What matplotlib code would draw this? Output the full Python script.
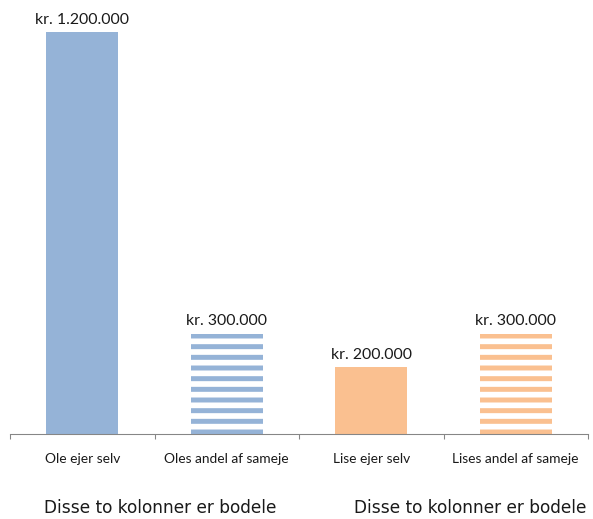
import matplotlib
matplotlib.use("Agg")
import matplotlib.pyplot as plt

# values in kroner
categories = ["Ole ejer selv", "Oles andel af sameje", "Lise ejer selv", "Lises andel af sameje"]
values = [1200000, 300000, 200000, 300000]
value_labels = ["kr. 1.200.000", "kr. 300.000", "kr. 200.000", "kr. 300.000"]
colors = ["#95B3D7", "#95B3D7", "#FAC090", "#FAC090"]
hatched = [False, True, False, True]
group_note = "Disse to kolonner er bodele"

DPI = 64
W, H = 593, 519

plt.rcParams["hatch.linewidth"] = 5.6
plt.rcParams["font.family"] = ["Lato", "DejaVu Sans"]

fig = plt.figure(figsize=(W / DPI, H / DPI), dpi=DPI)
ax = fig.add_axes([10 / W, 85 / H, 578 / W, 402 / H])

x = range(len(categories))
for i, (v, c, h) in enumerate(zip(values, colors, hatched)):
    if h:
        ax.bar(i, v, width=0.5, facecolor="white", edgecolor=c, linewidth=0, hatch="-")
    else:
        ax.bar(i, v, width=0.5, color=c, linewidth=0)
    ax.annotate(value_labels[i], (i, v), xytext=(0, 6), textcoords="offset points",
                ha="center", va="bottom", fontsize=17.8, color="#1a1a1a")

ax.set_xlim(-0.5, len(categories) - 0.5)
ax.set_ylim(0, max(values))

for s in ["top", "right", "left"]:
    ax.spines[s].set_visible(False)
ax.spines["bottom"].set_color("#868686")
ax.spines["bottom"].set_linewidth(1.2)
ax.set_yticks([])

# category labels between boundary ticks
ax.set_xticks(list(x))
ax.set_xticklabels(categories, fontsize=15.5, color="#1a1a1a")
ax.tick_params(axis="x", which="major", length=0, pad=21)
ax.set_xticks([i - 0.5 for i in range(len(categories) + 1)], minor=True)
ax.tick_params(axis="x", which="minor", length=6, color="#868686", width=1.2, direction="out")

fig.text(160 / W, 1 - 508 / H, group_note, ha="center", va="center",
         fontsize=19.2, family="DejaVu Sans", color="#1a1a1a")
fig.text(470 / W, 1 - 508 / H, group_note, ha="center", va="center",
         fontsize=19.2, family="DejaVu Sans", color="#1a1a1a")

fig.savefig("out.png", dpi=DPI)
